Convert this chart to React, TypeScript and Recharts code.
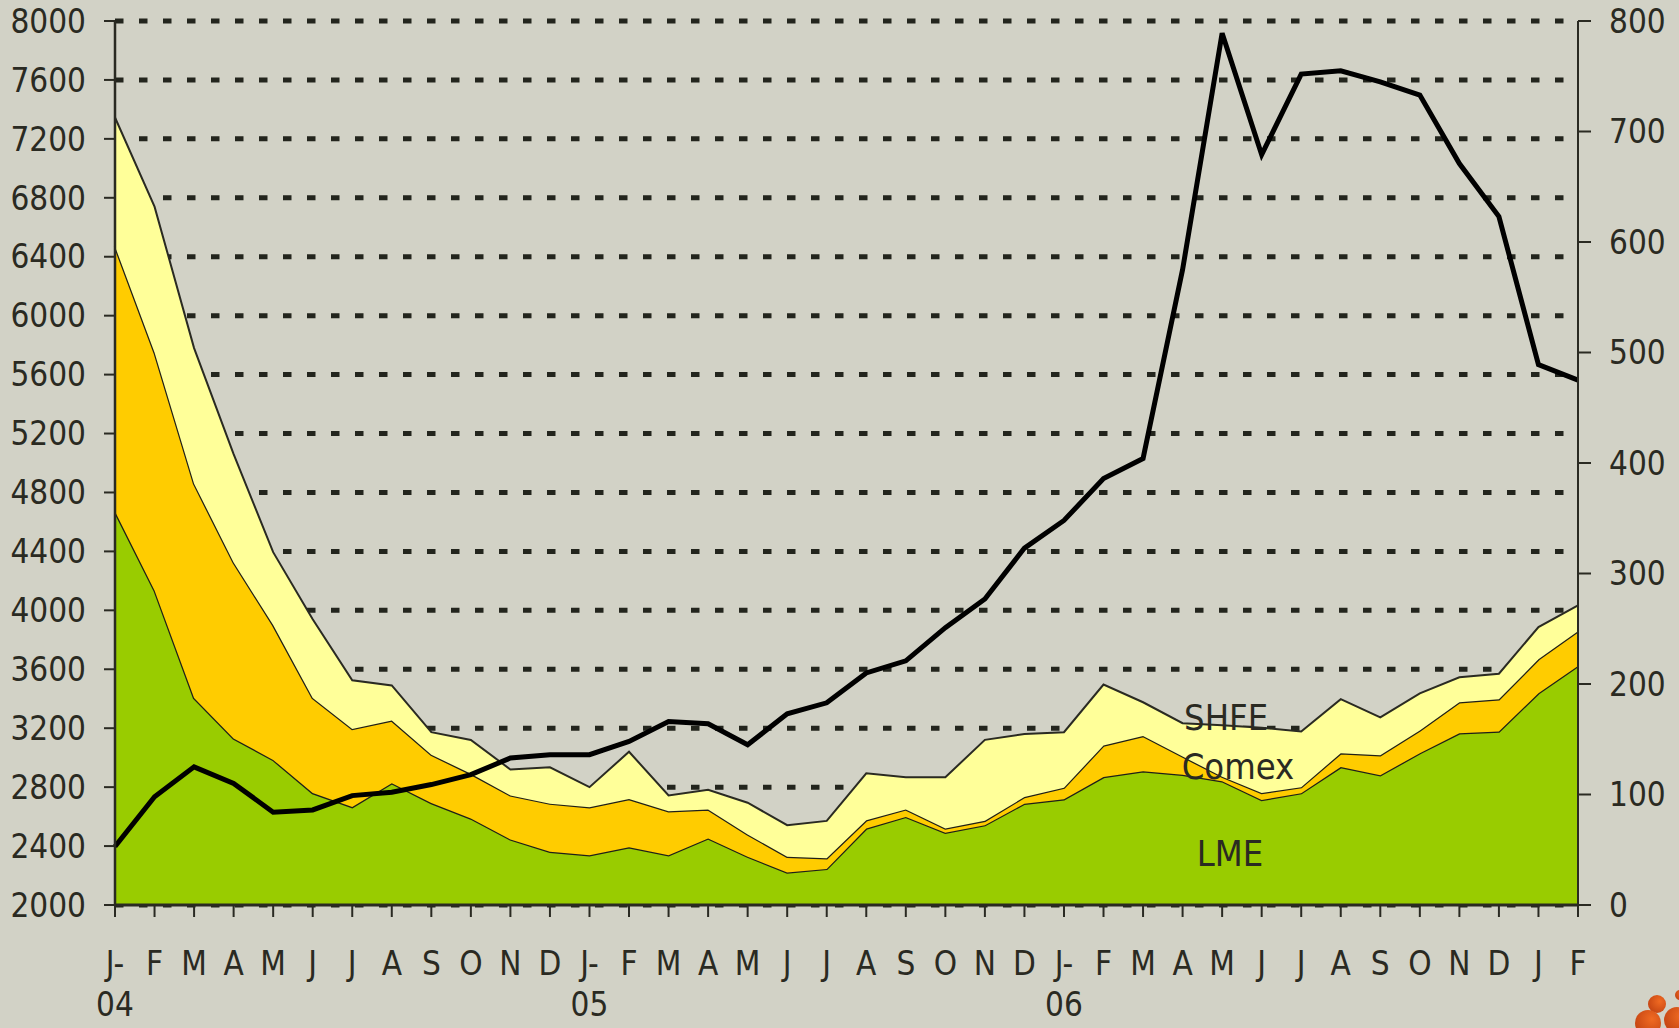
import { ComposedChart, Area, Line, XAxis, YAxis, CartesianGrid, ReferenceDot } from 'recharts';

const MONTHS = [
  'J-', 'F', 'M', 'A', 'M', 'J', 'J', 'A', 'S', 'O', 'N', 'D',
  'J-', 'F', 'M', 'A', 'M', 'J', 'J', 'A', 'S', 'O', 'N', 'D',
  'J-', 'F', 'M', 'A', 'M', 'J', 'J', 'A', 'S', 'O', 'N', 'D',
  'J', 'F',
];
const YEAR_TICKS = [0, 12, 24];
const YEARS = ['04', '05', '06'];

// stocks, stacked (left axis)
const LME = [
  4670, 4135, 3405, 3130, 2985, 2760, 2665, 2827, 2692, 2587, 2445, 2362,
  2337, 2392, 2338, 2452, 2328, 2220, 2245, 2519, 2598, 2490, 2542, 2688,
  2717, 2868, 2907, 2884, 2840, 2713, 2759, 2936, 2881, 3030, 3165, 3178,
  3437, 3622,
];
const COMEX = [
  1800, 1615, 1455, 1195, 915, 645, 530, 425, 328, 303, 299, 326,
  326, 327, 299, 197, 151, 108, 72, 56, 51, 29, 29, 45,
  79, 215, 240, 124, 31, 47, 41, 94, 135, 154, 211, 218,
  231, 236,
];
const SHFE = [
  875, 990, 920, 735, 495, 535, 330, 238, 153, 230, 176, 247,
  137, 321, 107, 133, 215, 214, 254, 319, 218, 348, 550, 427,
  377, 413, 229, 226, 349, 443, 378, 367, 257, 253, 170, 174,
  218, 175,
];
// price (right axis)
const PRICE = [
  53, 98, 125, 110, 84, 86, 99, 102, 109, 118, 133, 136,
  136, 148, 166, 164, 145, 173, 183, 210, 221, 251, 277, 323,
  348, 386, 404, 575, 789, 679, 752, 755, 745, 733, 671, 623,
  489, 475,
];

const LEFT_TICKS = [2000, 2400, 2800, 3200, 3600, 4000, 4400, 4800, 5200, 5600, 6000, 6400, 6800, 7200, 7600, 8000];
const RIGHT_TICKS = [0, 100, 200, 300, 400, 500, 600, 700, 800];

const data = MONTHS.map((m, i) => ({
  idx: i,
  month: m,
  lme: LME[i],
  comex: COMEX[i],
  shfe: SHFE[i],
  price: PRICE[i],
}));

const INK = '#2a2a22';
const FONT = "'Liberation Sans Narrow', 'DejaVu Sans Condensed', sans-serif";

function MonthTick({ x, y, payload }: any) {
  const i = payload.value;
  const yi = YEAR_TICKS.indexOf(i);
  return (
    <g>
      <text x={x} y={y + 56} textAnchor="middle" fill={INK} fontSize={33} fontFamily={FONT}>
        {MONTHS[i]}
      </text>
      {yi >= 0 && (
        <text x={x} y={y + 97} textAnchor="middle" fill={INK} fontSize={33} fontFamily={FONT}>
          {YEARS[yi]}
        </text>
      )}
    </g>
  );
}

const labelStyle = { fill: INK, fontSize: 36, fontFamily: FONT, position: 'center' as const };

// corner logo blobs
const BLOBS = [
  { left: 1648, top: 995, size: 18 },
  { left: 1635, top: 1010, size: 26 },
  { left: 1664, top: 1007, size: 26 },
  { left: 1675, top: 990, size: 10 },
];

export default function App() {
  return (
    <div
      style={{
        position: 'fixed',
        left: 0,
        top: 0,
        width: 1679,
        height: 1028,
        overflow: 'hidden',
        background: '#d2d2c6',
        fontFamily: FONT,
      }}
    >
      <ComposedChart width={1679} height={1028} data={data} margin={{ top: 21, right: 0, bottom: 0, left: 0 }}>
        <CartesianGrid
          yAxisId="left"
          vertical={false}
          stroke="#23251d"
          strokeWidth={5}
          strokeDasharray="8.5 15.5"
        />
        <XAxis
          dataKey="idx"
          type="number"
          domain={[0, 37]}
          ticks={MONTHS.map((_, i) => i)}
          interval={0}
          tick={<MonthTick />}
          tickSize={12}
          height={123}
          axisLine={{ stroke: INK, strokeWidth: 3 }}
          tickLine={{ stroke: INK, strokeWidth: 2 }}
        />
        <YAxis
          yAxisId="left"
          orientation="left"
          width={115}
          domain={[2000, 8000]}
          ticks={LEFT_TICKS}
          allowDataOverflow
          interval={0}
          tickSize={11}
          tickMargin={18}
          tick={{ fill: INK, fontSize: 33, fontFamily: FONT }}
          axisLine={{ stroke: INK, strokeWidth: 2.5 }}
          tickLine={{ stroke: INK, strokeWidth: 2 }}
        />
        <YAxis
          yAxisId="right"
          orientation="right"
          width={101}
          domain={[0, 800]}
          ticks={RIGHT_TICKS}
          interval={0}
          tickSize={13}
          tickMargin={18}
          tick={{ fill: INK, fontSize: 33, fontFamily: FONT }}
          axisLine={{ stroke: INK, strokeWidth: 2 }}
          tickLine={{ stroke: INK, strokeWidth: 2 }}
        />
        <Area
          yAxisId="left"
          dataKey="lme"
          stackId="stocks"
          type="linear"
          fill="#99cc00"
          fillOpacity={1}
          stroke="#1f1f18"
          strokeWidth={2.5}
          isAnimationActive={false}
        />
        <Area
          yAxisId="left"
          dataKey="comex"
          stackId="stocks"
          type="linear"
          fill="#ffcc00"
          fillOpacity={1}
          stroke="#1f1f18"
          strokeWidth={2.5}
          isAnimationActive={false}
        />
        <Area
          yAxisId="left"
          dataKey="shfe"
          stackId="stocks"
          type="linear"
          fill="#ffff99"
          fillOpacity={1}
          stroke="#2a2a22"
          strokeWidth={2}
          isAnimationActive={false}
        />
        <Line
          yAxisId="right"
          dataKey="price"
          type="linear"
          stroke="#000000"
          strokeWidth={5}
          dot={false}
          isAnimationActive={false}
        />
        <ReferenceDot yAxisId="left" x={28.1} y={3275} r={0.1} fill="none" stroke="none" label={{ value: 'SHFE', ...labelStyle }} />
        <ReferenceDot yAxisId="left" x={28.4} y={2945} r={0.1} fill="none" stroke="none" label={{ value: 'Comex', ...labelStyle }} />
        <ReferenceDot yAxisId="left" x={28.2} y={2350} r={0.1} fill="none" stroke="none" label={{ value: 'LME', ...labelStyle }} />
      </ComposedChart>
      {BLOBS.map((b, i) => (
        <div
          key={i}
          style={{
            position: 'absolute',
            left: b.left,
            top: b.top,
            width: b.size,
            height: b.size,
            borderRadius: '50%',
            background: 'radial-gradient(circle at 65% 35%, #f06a22, #b83a0e)',
          }}
        />
      ))}
    </div>
  );
}
